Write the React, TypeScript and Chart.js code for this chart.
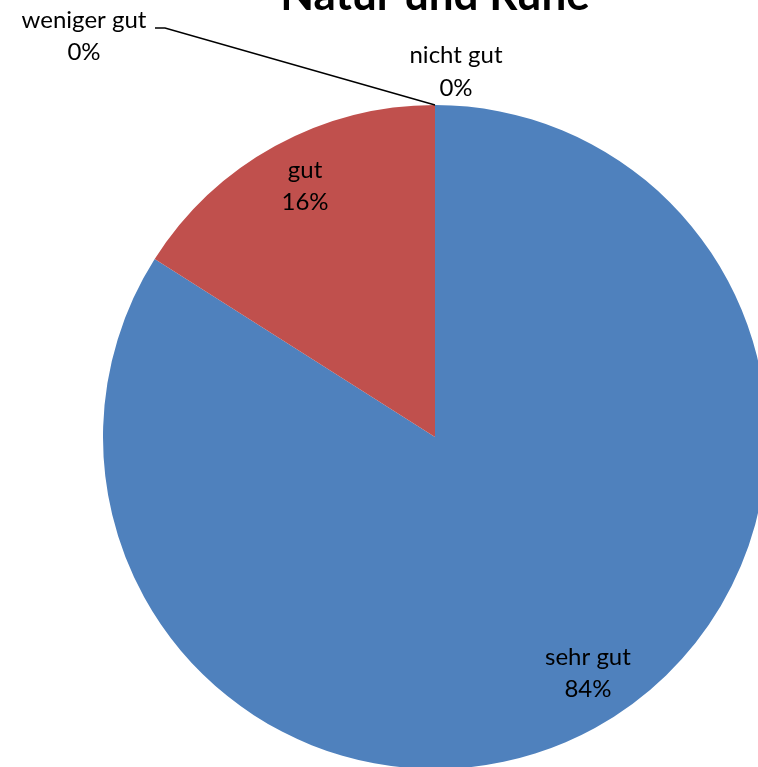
import React, { useEffect, useRef } from "react";
import { Chart, registerables } from "chart.js";

Chart.register(...registerables);

const title = "Natur und Ruhe";
const categories = ["sehr gut", "gut", "weniger gut", "nicht gut"];
const values = [84, 16, 0, 0];
const percentLabels = ["84%", "16%", "0%", "0%"];
const colors = ["#4F81BD", "#C0504D", "#9BBB59", "#8064A2"];

const CANVAS = 900;
const OFFSET_X = -15;
const OFFSET_Y = -13;
const LABEL_FONT = "24px Lato, 'Open Sans', sans-serif";
const TITLE_FONT = "bold 44px Lato, 'Open Sans', sans-serif";
const labelNudge = [
  [17, -11],
  [6, -3],
];

const labelPlugin = {
  id: "pieLabels",
  afterDraw(chart: any) {
    const ctx = chart.ctx;
    const meta = chart.getDatasetMeta(0);
    const first = meta.data[0];
    const cx = first.x;
    const cy = first.y;
    const R = first.outerRadius;
    ctx.save();
    ctx.fillStyle = "#000";
    ctx.textAlign = "center";
    ctx.font = TITLE_FONT;
    ctx.textBaseline = "alphabetic";
    ctx.fillText(title, cx, cy - R - 95);
    ctx.textBaseline = "middle";
    ctx.font = LABEL_FONT;
    const lh = 32;
    meta.data.forEach((arc: any, i: number) => {
      const v = values[i];
      if (v > 0) {
        const mid = (arc.startAngle + arc.endAngle) / 2;
        const r = R * 0.85;
        const n = labelNudge[i] || [0, 0];
        const x = cx + Math.cos(mid) * r + n[0];
        const y = cy + Math.sin(mid) * r + n[1];
        ctx.fillText(categories[i], x, y - lh / 2);
        ctx.fillText(percentLabels[i], x, y + lh / 2);
      } else {
        const px = cx + Math.cos(arc.startAngle) * R;
        const py = cy + Math.sin(arc.startAngle) * R;
        if (categories[i] === "nicht gut") {
          ctx.fillText(categories[i], px + 21, py - 50);
          ctx.fillText(percentLabels[i], px + 21, py - 17);
        } else {
          const lx = px - 351;
          ctx.fillText(categories[i], lx, py - 85);
          ctx.fillText(percentLabels[i], lx, py - 53);
          ctx.strokeStyle = "#000";
          ctx.lineWidth = 1.5;
          ctx.beginPath();
          ctx.moveTo(px, py);
          ctx.lineTo(px - 270, py - 77);
          ctx.lineTo(px - 280, py - 77);
          ctx.stroke();
        }
      }
    });
    ctx.restore();
  },
};

export default function App() {
  const ref = useRef<HTMLCanvasElement | null>(null);
  useEffect(() => {
    if (!ref.current) return;
    const chart = new Chart(ref.current, {
      type: "pie",
      data: {
        labels: categories,
        datasets: [
          {
            data: values,
            backgroundColor: colors,
            borderWidth: 0,
          },
        ],
      },
      options: {
        responsive: false,
        animation: false,
        layout: { padding: 118 },
        plugins: {
          legend: { display: false },
          tooltip: { enabled: false },
          title: { display: false },
        },
      },
      plugins: [labelPlugin],
    });
    return () => chart.destroy();
  }, []);
  return (
    <div style={{ position: "absolute", left: OFFSET_X, top: OFFSET_Y, width: CANVAS, height: CANVAS }}>
      <canvas ref={ref} width={CANVAS} height={CANVAS} style={{ width: CANVAS, height: CANVAS }} />
    </div>
  );
}
